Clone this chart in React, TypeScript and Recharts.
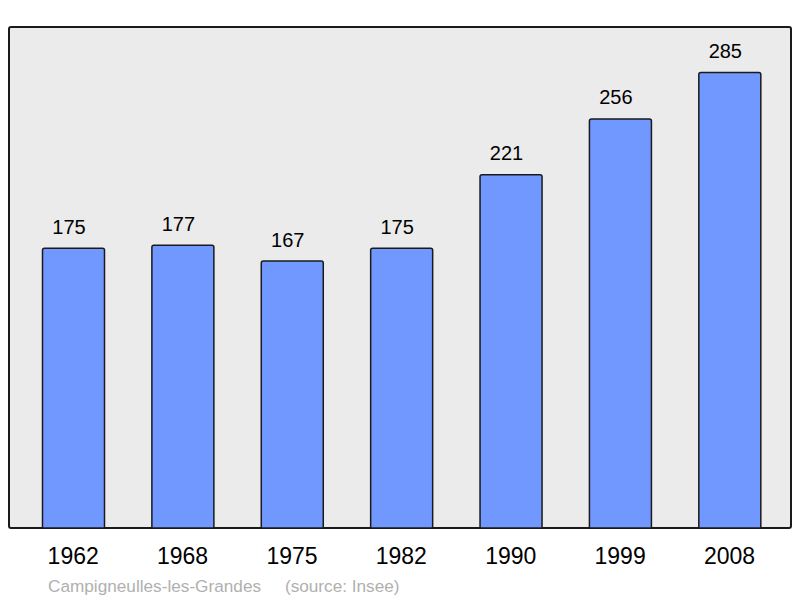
import React from 'react';
import { BarChart, Bar, XAxis, YAxis, LabelList } from 'recharts';

const years = ['1962', '1968', '1975', '1982', '1990', '1999', '2008'];
const population = [175, 177, 167, 175, 221, 256, 285];
const caption = 'Campigneulles-les-Grandes     (source: Insee)';

const data = years.map((y, i) => ({ year: y, value: population[i] }));

export default function App() {
  return (
    <div style={{ position: 'absolute', left: 0, top: 0, width: 800, height: 598, fontFamily: '"Liberation Sans", Arial, sans-serif' }}>
      <div
        style={{
          position: 'absolute',
          left: 8,
          top: 26,
          width: 784,
          height: 503,
          boxSizing: 'border-box',
          border: '2px solid #1a1a1a',
          borderRadius: 3,
          background: '#ebebeb',
        }}
      />
      <div style={{ position: 'absolute', left: 0, top: 0 }}>
        <BarChart
          width={800}
          height={598}
          data={data}
          margin={{ top: 27, right: 9, bottom: 0, left: 9 }}
        >
          <XAxis
            dataKey="year"
            axisLine={false}
            tickLine={false}
            tickSize={6}
            tickMargin={14}
            interval={0}
            padding={{ left: 9.5, right: 6.8 }}
            tick={{ fontSize: 23, fill: '#000', fontFamily: '"Liberation Sans", Arial, sans-serif' }}
            height={70}
          />
          <YAxis hide domain={[0, 313.5]} />
          <Bar
            dataKey="value"
            fill="#7098ff"
            stroke="#1a1a1a"
            strokeWidth={1.5}
            barSize={62}
            radius={[2, 2, 0, 0]}
            isAnimationActive={false}
          >
            <LabelList
              dataKey="value"
              position="top"
              offset={14.5}
              dx={-4.5}
              style={{ fontSize: 20, fill: '#000', fontFamily: '"Liberation Sans", Arial, sans-serif' }}
            />
          </Bar>
        </BarChart>
      </div>
      <div
        style={{
          position: 'absolute',
          left: 48,
          top: 576,
          fontSize: 17.2,
          color: '#b0b0b0',
          whiteSpace: 'pre',
          lineHeight: '20px',
        }}
      >
        {caption}
      </div>
    </div>
  );
}
